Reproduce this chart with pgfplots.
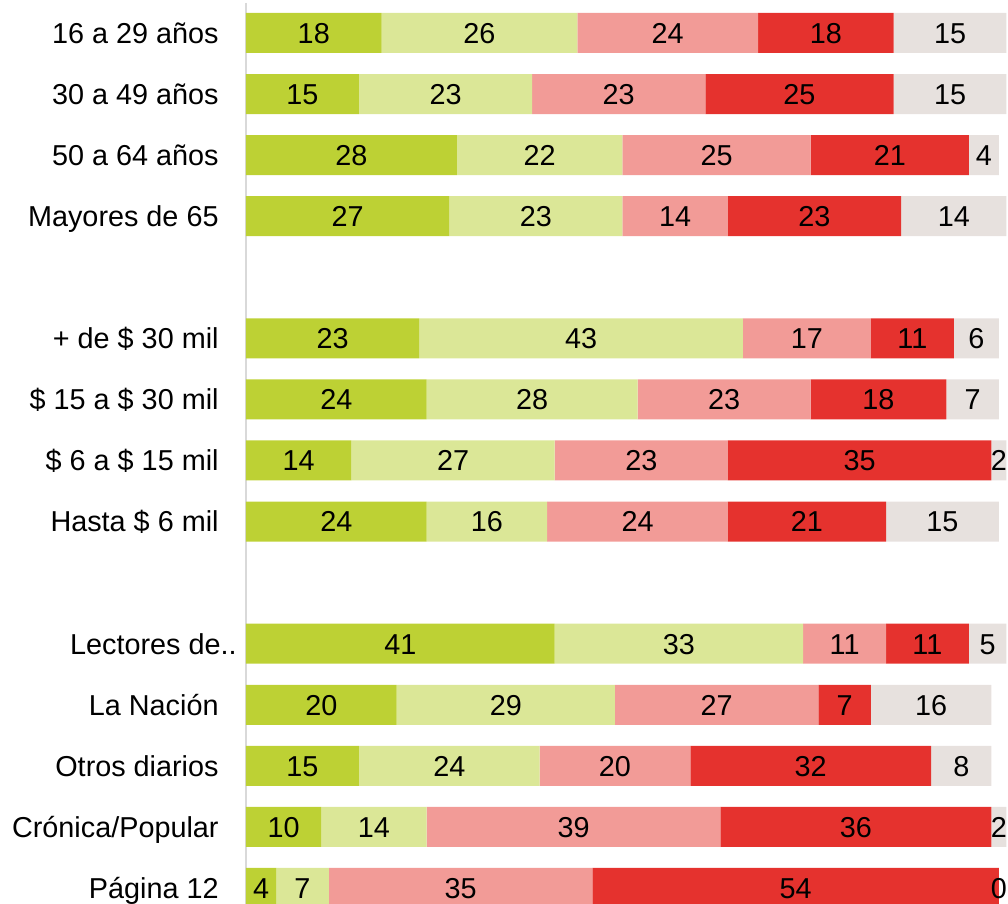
\documentclass[border=0pt]{standalone}
\usepackage{pgfplots}
\pgfplotsset{compat=1.18}
\usepackage{fontspec}
\setmainfont{Liberation Sans}
\definecolor{verde}{RGB}{189,209,52}
\definecolor{verdeclaro}{RGB}{219,231,151}
\definecolor{rosa}{RGB}{242,155,151}
\definecolor{rojo}{RGB}{229,50,46}
\definecolor{gris}{RGB}{231,225,222}
\newcommand\chartfont{\fontsize{14.4}{17}\selectfont}
\begin{document}
\begin{tikzpicture}
\begin{axis}[
    name=ax,
    xbar stacked,
    scale only axis,
    width=380.25pt, height=450.5pt,
    xmin=0, xmax=101,
    ymin=-0.491, ymax=14.262,
    y dir=reverse,
    bar width=0.655,
    axis x line=none,
    axis y line=left,
    axis line style={-, draw=black!15, line width=1pt},
    ytick={0,1,2,3,5,6,7,8,10,11,12,13,14},
    yticklabels={{16 a 29 años},{30 a 49 años},{50 a 64 años},{Mayores de 65},
      {+ de \$ 30 mil},{\$ 15 a \$ 30 mil},{\$ 6 a \$ 15 mil},{Hasta \$ 6 mil},
      {Lectores de..\hspace*{-9pt}},{La Nación},{Otros diarios},{Crónica/Popular},{Página 12}},
    major tick length=0pt,
    ytick style={draw=none},
    yticklabel style={font=\chartfont, inner sep=0pt, xshift=-13.5pt, text height=10.3pt, text depth=0pt},
    point meta=rawx,
    nodes near coords,
    every node near coord/.append style={anchor=center,
      font=\chartfont, inner sep=0pt, text height=10.3pt, text depth=0pt, text=black},
    /pgf/number format/assume math mode=true,
  ]
  % muy de acuerdo
  \addplot[fill=verde, draw=none] coordinates {(18,0) (15,1) (28,2) (27,3) (23,5) (24,6) (14,7) (24,8) (41,10) (20,11) (15,12) (10,13) (4,14)};
  \addplot[fill=verdeclaro, draw=none] coordinates {(26,0) (23,1) (22,2) (23,3) (43,5) (28,6) (27,7) (16,8) (33,10) (29,11) (24,12) (14,13) (7,14)};
  \addplot[fill=rosa, draw=none] coordinates {(24,0) (23,1) (25,2) (14,3) (17,5) (23,6) (23,7) (24,8) (11,10) (27,11) (20,12) (39,13) (35,14)};
  \addplot[fill=rojo, draw=none] coordinates {(18,0) (25,1) (21,2) (23,3) (11,5) (18,6) (35,7) (21,8) (11,10) (7,11) (32,12) (36,13) (54,14)};
  % ns/nc (a zero-length bar drops its label, so Pagina 12 gets a hair of width)
  \addplot[fill=gris, draw=none, point meta=explicit] coordinates {(15,0) [15] (15,1) [15] (4,2) [4] (14,3) [14] (6,5) [6] (7,6) [7] (2,7) [2] (15,8) [15] (5,10) [5] (16,11) [16] (8,12) [8] (2,13) [2] (0.001,14) [0]};
\end{axis}
\pgfresetboundingbox
\useasboundingbox ([xshift=-123pt]ax.south west) rectangle ([xshift=0.75pt,yshift=1.5pt]ax.north east);
\end{tikzpicture}
\end{document}
